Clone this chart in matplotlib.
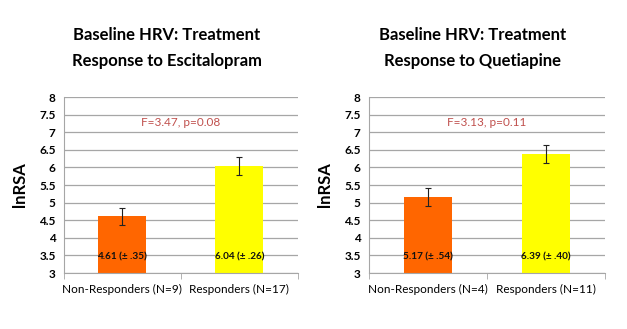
import matplotlib
matplotlib.use('Agg')
import matplotlib.pyplot as plt

plt.rcParams['font.family'] = ['Lato', 'DejaVu Sans']

titles = ['Baseline HRV: Treatment\nResponse to Escitalopram',
          'Baseline HRV: Treatment\nResponse to Quetiapine']
cats_escit = ['Non-Responders (N=9)', 'Responders (N=17)']
cats_quet = ['Non-Responders (N=4)', 'Responders (N=11)']
means_escit = [4.61, 6.04]
means_quet = [5.17, 6.39]
err_escit = [0.25, 0.26]
err_quet = [0.26, 0.26]
labels_escit = ['4.61 (± .35)', '6.04 (± .26)']
labels_quet = ['5.17 (± .54)', '6.39 (± .40)']
stats = ['F=3.47, p=0.08', 'F=3.13, p=0.11']
yticks = [3, 3.5, 4, 4.5, 5, 5.5, 6, 6.5, 7, 7.5, 8]

bar_colors = ['#FF6600', '#FFFF00']

fig = plt.figure(figsize=(6.27, 3.29), dpi=100)
positions = [[0.102, 0.170, 0.373, 0.535], [0.5885, 0.170, 0.376, 0.535]]
panels = [(cats_escit, means_escit, err_escit, labels_escit),
          (cats_quet, means_quet, err_quet, labels_quet)]

for k, (pos, (cats, means, errs, labs)) in enumerate(zip(positions, panels)):
    ax = fig.add_axes(pos)
    x = [0, 1]
    ax.bar(x, [m - 3 for m in means], bottom=3, width=0.41, color=bar_colors, zorder=2)
    ax.errorbar(x, means, yerr=errs, fmt='none', ecolor='#222222', elinewidth=0.8,
                capsize=2.5, capthick=0.8, zorder=3)
    for xi, lab in zip(x, labs):
        ax.text(xi, 3.46, lab, ha='center', va='center', fontsize=7.2, fontweight='bold',
                color='#111111', zorder=4)
    ax.set_xlim(-0.5, 1.5)
    ax.set_ylim(3, 8)
    ax.set_yticks(yticks)
    ax.set_yticklabels([f'{v:g}' for v in yticks], fontsize=8.5, fontweight='bold')
    ax.grid(axis='y', color='#A6A6A6', linewidth=0.9, zorder=0)
    ax.set_axisbelow(True)
    for s in ['top', 'right']:
        ax.spines[s].set_visible(False)
    ax.spines['left'].set_color('#A6A6A6')
    ax.spines['bottom'].set_color('#A6A6A6')
    ax.tick_params(axis='y', length=0, pad=6)
    ax.set_xticks([-0.5, 0.5, 1.5], minor=True)
    ax.tick_params(axis='x', which='minor', length=4, color='#A6A6A6')
    ax.set_xticks(x)
    ax.set_xticklabels(cats, fontsize=8.5)
    ax.tick_params(axis='x', which='major', length=0, pad=8)
    ax.set_ylabel('lnRSA', fontsize=12, fontweight='bold', labelpad=8)
    ax.text(0.5, 7.28, stats[k], ha='center', va='center', fontsize=8.5, color='#C0504D')
    cx = pos[0] + pos[2] * 0.44
    fig.text(cx, 0.855, titles[k], ha='center', va='center', fontsize=12,
             fontweight='bold', linespacing=1.75)

fig.savefig('out.png', dpi=100)
